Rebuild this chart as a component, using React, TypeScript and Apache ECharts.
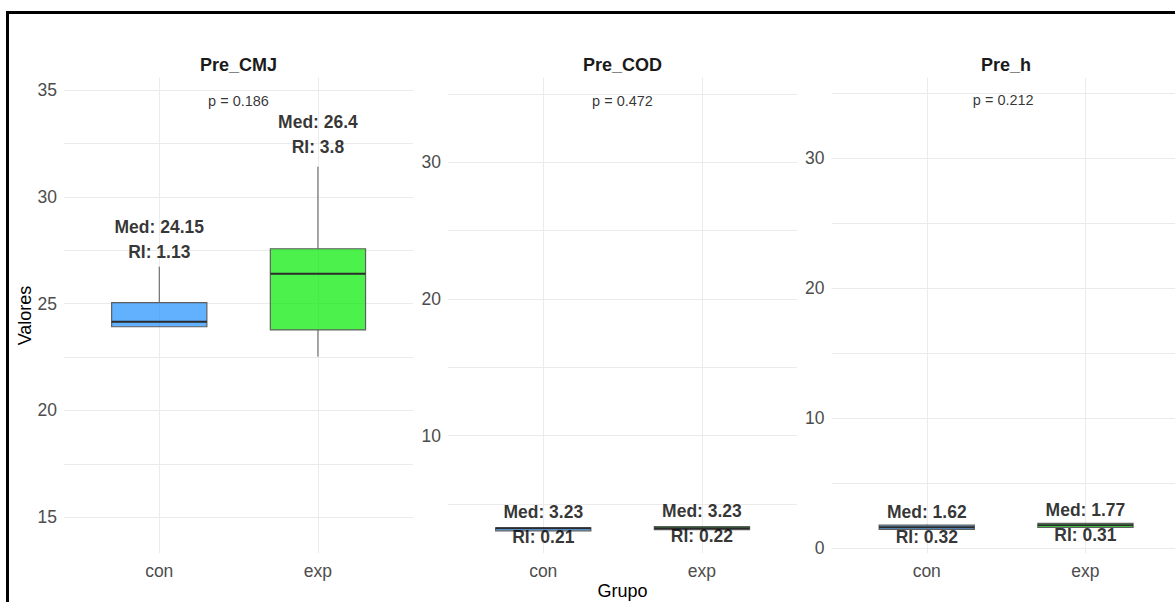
import React, { useEffect, useRef } from 'react';
import * as echarts from 'echarts';

// ---------- data ----------
const panelTitles = ['Pre_CMJ', 'Pre_COD', 'Pre_h'];
const groups = ['con', 'exp'];
// each box: [min, Q1, median, Q3, max]
const cmjBoxes = [
  [23.92, 23.92, 24.15, 25.05, 26.73],
  [22.52, 23.77, 26.4, 27.57, 31.41],
];
const codBoxes = [
  [3.0, 3.04, 3.23, 3.25, 3.3],
  [3.08, 3.13, 3.23, 3.35, 3.4],
];
const hBoxes = [
  [1.4, 1.46, 1.62, 1.78, 1.82],
  [1.55, 1.6, 1.77, 1.91, 1.95],
];
const medians = [
  [24.15, 26.4],
  [3.23, 3.23],
  [1.62, 1.77],
];
const iqrs = [
  [1.13, 3.8],
  [0.21, 0.22],
  [0.32, 0.31],
];
const labelY = [
  [28.0, 32.9],
  [3.47, 3.56],
  [1.85, 1.96],
];
const pValues = ['0.186', '0.472', '0.212'];
const pLabelY = 34.5;
const pLabelX = 1.5;

// ---------- layout / style ----------
const allBoxes = [cmjBoxes, codBoxes, hBoxes];
const fillColors = ['rgba(30,144,255,0.7)', 'rgba(0,235,0,0.7)'];
const FONT = '"Liberation Sans", Arial, Helvetica, sans-serif';
const plotLeft = [64, 448, 831.5];
const plotW = 349;
const fgInset = 15.9;
const fgW = 317.4;
const plotTop = 77.7;
const plotH = 475.6;
const bgMin = [12.5, 0, -5];
const bgMax = [37.5, 40, 40];
const bgInterval = [2.5, 5, 5];
const bgLabelStep = [5, 10, 10];
const bgTop = [36.6, 25.6, 28.3];
const bgH = [534.1, 546.8, 585];
const fgMin = [13.315, 1.397, -0.385];
const fgMax = [35.576, 36.19, 36.2];
const GRID = '#EBEBEB';

function buildOption() {
  const grid: any[] = [];
  const xAxis: any[] = [];
  const yAxis: any[] = [];
  const series: any[] = [];
  const graphic: any[] = [];

  for (let p = 0; p < 3; p++) {
    const bgIdx = p * 2;
    const fgIdx = p * 2 + 1;
    grid.push({ left: plotLeft[p], top: bgTop[p], width: plotW, height: bgH[p], containLabel: false });
    grid.push({ left: plotLeft[p] + fgInset, top: plotTop, width: fgW, height: plotH, containLabel: false });

    xAxis.push({ type: 'value', gridIndex: bgIdx, min: 0.4, max: 2.6, show: false });
    xAxis.push({
      type: 'category',
      gridIndex: fgIdx,
      data: groups,
      axisLine: { show: false },
      axisTick: { show: false },
      axisLabel: { color: '#4D4D4D', fontSize: 17.5, margin: 9, fontFamily: FONT },
      splitLine: { show: true, alignWithLabel: true, lineStyle: { color: GRID, width: 1 } },
    });

    const step = bgLabelStep[p];
    yAxis.push({
      type: 'value',
      gridIndex: bgIdx,
      min: bgMin[p],
      max: bgMax[p],
      interval: bgInterval[p],
      axisLine: { show: false },
      axisTick: { show: false },
      axisLabel: {
        color: '#4D4D4D',
        fontSize: 17.5,
        margin: 7,
        fontFamily: FONT,
        showMinLabel: false,
        showMaxLabel: false,
        formatter: (v: number) => (Math.abs(v % step) < 1e-9 ? String(v) : ''),
      },
      splitLine: { show: true, showMinLine: false, showMaxLine: false, lineStyle: { color: GRID, width: 1 } },
    });
    yAxis.push({ type: 'value', gridIndex: fgIdx, min: fgMin[p], max: fgMax[p], show: false });

    const boxes = allBoxes[p];
    series.push({
      type: 'custom',
      xAxisIndex: fgIdx,
      yAxisIndex: fgIdx,
      encode: { x: 0, y: [1, 2, 3, 4, 5] },
      data: boxes.map((b, i) => [i, ...b]),
      renderItem: (params: any, api: any) => {
        const x = api.value(0);
        const lo = api.coord([x, api.value(1)]);
        const q1 = api.coord([x, api.value(2)]);
        const md = api.coord([x, api.value(3)]);
        const q3 = api.coord([x, api.value(4)]);
        const hi = api.coord([x, api.value(5)]);
        const half = api.size([1, 0])[0] * 0.3;
        const cx = md[0];
        return {
          type: 'group',
          children: [
            { type: 'line', shape: { x1: cx, y1: hi[1], x2: cx, y2: q3[1] }, style: { stroke: '#555555', lineWidth: 1 } },
            { type: 'line', shape: { x1: cx, y1: q1[1], x2: cx, y2: lo[1] }, style: { stroke: '#555555', lineWidth: 1 } },
            {
              type: 'rect',
              shape: { x: cx - half, y: q3[1], width: 2 * half, height: q1[1] - q3[1] },
              style: { fill: fillColors[params.dataIndex], stroke: '#5F5F5F', lineWidth: 1.2 },
            },
            { type: 'line', shape: { x1: cx - half, y1: md[1], x2: cx + half, y2: md[1] }, style: { stroke: '#2B2B2B', lineWidth: 2 } },
          ],
        };
      },
      silent: true,
      z: 2,
    });

    series.push({
      type: 'scatter',
      xAxisIndex: fgIdx,
      yAxisIndex: fgIdx,
      data: groups.map((g, i) => [g, labelY[p][i]]),
      symbolSize: 1,
      itemStyle: { color: 'rgba(0,0,0,0)' },
      silent: true,
      z: 5,
      label: {
        show: true,
        position: 'inside',
        formatter: (pr: any) => `Med: ${medians[p][pr.dataIndex]}\nRI: ${iqrs[p][pr.dataIndex]}`,
        fontSize: 17.5,
        fontWeight: 'bold',
        lineHeight: 25,
        color: '#000000',
        fontFamily: FONT,
        align: 'center',
        verticalAlign: 'middle',
      },
    });

    series.push({
      type: 'scatter',
      xAxisIndex: bgIdx,
      yAxisIndex: bgIdx,
      data: [[pLabelX, pLabelY]],
      symbolSize: 1,
      itemStyle: { color: 'rgba(0,0,0,0)' },
      silent: true,
      z: 5,
      label: {
        show: true,
        position: 'inside',
        formatter: () => `p = ${pValues[p]}`,
        fontSize: 14.5,
        color: '#000000',
        fontFamily: FONT,
      },
    });

    graphic.push({
      type: 'text',
      x: plotLeft[p] + plotW / 2,
      y: 65,
      style: {
        text: panelTitles[p],
        fontSize: 18,
        fontWeight: 'bold',
        fill: '#1A1A1A',
        fontFamily: FONT,
        align: 'center',
        verticalAlign: 'middle',
      },
    });
  }

  graphic.push({
    type: 'text',
    x: 25,
    y: plotTop + plotH / 2,
    rotation: Math.PI / 2,
    style: { text: 'Valores', fontSize: 18, fill: '#000000', fontFamily: FONT, align: 'center', verticalAlign: 'middle' },
  });
  graphic.push({
    type: 'text',
    x: 622.5,
    y: 591,
    style: { text: 'Grupo', fontSize: 18, fill: '#000000', fontFamily: FONT, align: 'center', verticalAlign: 'middle' },
  });
  graphic.push({
    type: 'polyline',
    shape: { points: [[7.5, 640], [7.5, 12.5], [1175, 12.5]] },
    style: { stroke: '#000000', lineWidth: 3, fill: null },
  });

  return {
    animation: false,
    backgroundColor: '#FFFFFF',
    textStyle: { fontFamily: FONT },
    grid,
    xAxis,
    yAxis,
    series,
    graphic,
  };
}

export default function App() {
  const ref = useRef<HTMLDivElement>(null);
  useEffect(() => {
    if (!ref.current) return;
    const chart = echarts.init(ref.current, undefined, { renderer: 'svg' });
    chart.setOption(buildOption() as any);
    return () => chart.dispose();
  }, []);
  return (
    <div
      ref={ref}
      style={{ position: 'fixed', left: 0, top: 0, width: 1175, height: 640, background: '#FFFFFF' }}
    />
  );
}
